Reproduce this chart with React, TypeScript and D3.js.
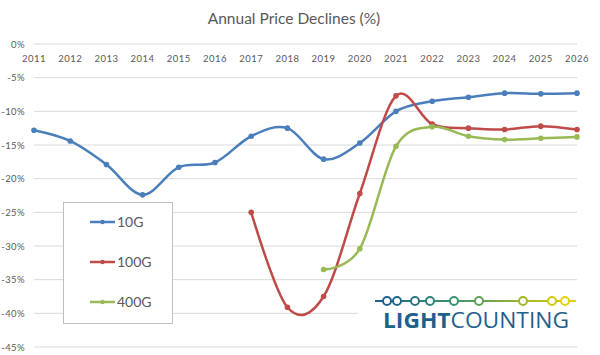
import React from "react";
import * as d3 from "d3";

const years = [2011, 2012, 2013, 2014, 2015, 2016, 2017, 2018, 2019, 2020, 2021, 2022, 2023, 2024, 2025, 2026];
const yTicks = [0, -5, -10, -15, -20, -25, -30, -35, -40, -45];

const years10G = years;
const values10G = [-12.8, -14.4, -17.9, -22.4, -18.3, -17.6, -13.7, -12.5, -17.1, -14.7, -10.0, -8.5, -7.9, -7.3, -7.4, -7.3];
const years100G = [2017, 2018, 2019, 2020, 2021, 2022, 2023, 2024, 2025, 2026];
const values100G = [-25.0, -39.1, -37.5, -22.2, -7.7, -11.9, -12.5, -12.7, -12.2, -12.7];
const years400G = [2019, 2020, 2021, 2022, 2023, 2024, 2025, 2026];
const values400G = [-33.5, -30.4, -15.2, -12.3, -13.7, -14.2, -14.0, -13.8];

const seriesNames = ["10G", "100G", "400G"];
const seriesColors = ["#4a7ebb", "#be4b48", "#98b954"];

const logoDots = [387, 397, 415, 430, 454, 479, 523, 552, 565];

export default function App() {
  const W = 600, H = 355;
  const x = d3.scaleLinear().domain([2011, 2026]).range([34, 577]);
  const y = d3.scaleLinear().domain([0, -45]).range([44, 347]);
  const line = d3
    .line<[number, number]>()
    .x((d) => x(d[0]))
    .y((d) => y(d[1]))
    .curve(d3.curveCardinal.tension(0));

  const series = [
    { yrs: years10G, vals: values10G },
    { yrs: years100G, vals: values100G },
    { yrs: years400G, vals: values400G },
  ].map((s) => s.yrs.map((yr, i) => [yr, s.vals[i]] as [number, number]));

  const font = "Lato, 'Open Sans', sans-serif";
  const txt = "#595959";
  const logoColor = d3.scaleLinear<string>().domain([387, 454, 523, 565]).range(["#1d5f8f", "#3d9470", "#a4b62a", "#e2d20c"]);

  return (
    <svg width={W} height={H} style={{ position: "absolute", left: 0, top: 0, background: "#fff" }} fontFamily={font}>
      <rect x={0} y={0} width={W} height={H} fill="#fff" />
      <text x={294} y={24} textAnchor="middle" fontSize={15.5} fill={txt}>Annual Price Declines (%)</text>
      {yTicks.map((t) => (
        <g key={t}>
          <line x1={34} x2={577} y1={y(t)} y2={y(t)} stroke="#d9d9d9" strokeWidth={1} />
          <text x={25} y={y(t) + 3.5} textAnchor="end" fontSize={9.5} letterSpacing={0.4} fill={txt}>{t}%</text>
        </g>
      ))}
      {years.map((yr) => (
        <text key={yr} x={x(yr)} y={62} textAnchor="middle" fontSize={9.5} letterSpacing={0.5} fill={txt}>{yr}</text>
      ))}
      {series.map((pts, i) => (
        <g key={i}>
          <path d={line(pts) || ""} fill="none" stroke={seriesColors[i]} strokeWidth={2.5} />
          {pts.map((p, j) => (
            <circle key={j} cx={x(p[0])} cy={y(p[1])} r={2.8} fill={seriesColors[i]} />
          ))}
        </g>
      ))}
      <rect x={63.5} y={202.5} width={109} height={121} fill="#fff" stroke="#bfbfbf" strokeWidth={1} />
      {seriesNames.map((n, i) => {
        const ly = [222, 262, 302][i];
        return (
          <g key={n}>
            <line x1={90} x2={115} y1={ly} y2={ly} stroke={seriesColors[i]} strokeWidth={2.5} />
            <circle cx={102.5} cy={ly} r={2.2} fill={seriesColors[i]} />
            <text x={117} y={ly + 5} fontSize={14} fill={txt}>{n}</text>
          </g>
        );
      })}
      <rect x={358} y={287} width={232} height={50} fill="#fff" />
      <defs>
        <linearGradient id="lg" x1="375" x2="576" y1="0" y2="0" gradientUnits="userSpaceOnUse">
          <stop offset="0" stopColor="#1d5f8f" />
          <stop offset="0.4" stopColor="#3d9470" />
          <stop offset="0.75" stopColor="#a4b62a" />
          <stop offset="1" stopColor="#e2d20c" />
        </linearGradient>
      </defs>
      <line x1={375} x2={576} y1={301} y2={301} stroke="url(#lg)" strokeWidth={2} />
      {logoDots.map((cx) => (
        <circle key={cx} cx={cx} cy={301} r={4} fill="#fff" stroke={logoColor(cx)} strokeWidth={2} />
      ))}
      <text x={383} y={328} fontSize={22} fill="#1f5f8b" fontFamily="'Open Sans', Lato, sans-serif" textLength={186} lengthAdjust="spacingAndGlyphs">
        <tspan fontWeight="bold">LIGHT</tspan>
        <tspan>COUNTING</tspan>
      </text>
    </svg>
  );
}
